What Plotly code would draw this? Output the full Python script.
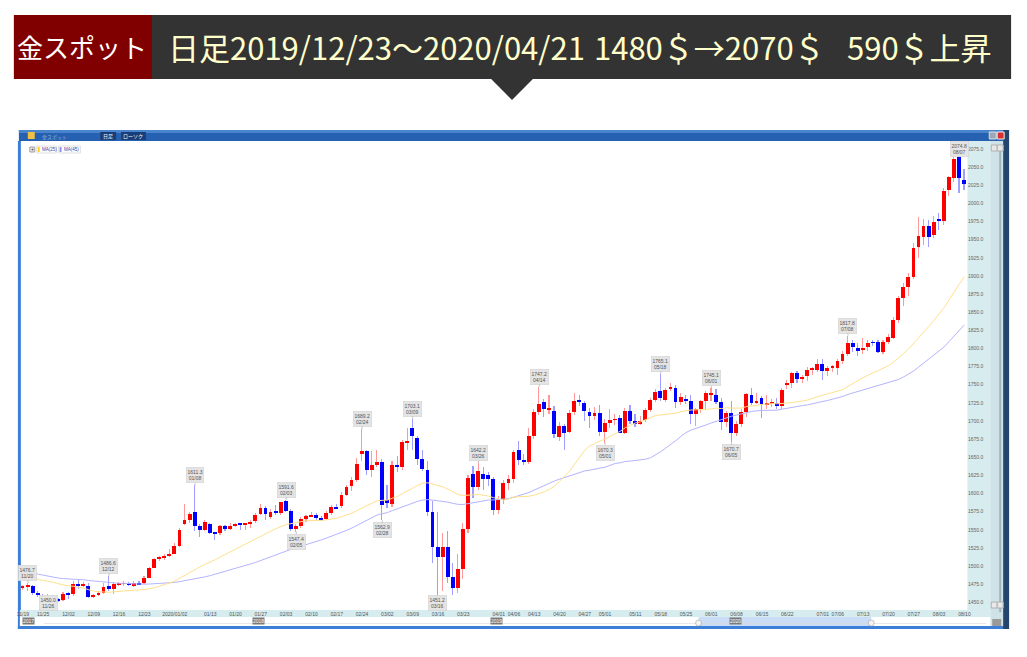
import plotly.graph_objects as go
import pandas as pd

# ---------------- data ----------------
dates = [
 "2019-11-19","2019-11-20","2019-11-21","2019-11-22","2019-11-25","2019-11-26","2019-11-27","2019-11-28","2019-11-29",
 "2019-12-02","2019-12-03","2019-12-04","2019-12-05","2019-12-06","2019-12-09","2019-12-10","2019-12-11","2019-12-12","2019-12-13",
 "2019-12-16","2019-12-17","2019-12-18","2019-12-19","2019-12-20","2019-12-23","2019-12-24","2019-12-26","2019-12-27","2019-12-30","2019-12-31",
 "2020-01-02","2020-01-03","2020-01-06","2020-01-07","2020-01-08","2020-01-09","2020-01-10","2020-01-13","2020-01-14","2020-01-15","2020-01-16","2020-01-17",
 "2020-01-20","2020-01-21","2020-01-22","2020-01-23","2020-01-24","2020-01-27","2020-01-28","2020-01-29","2020-01-30","2020-01-31",
 "2020-02-03","2020-02-04","2020-02-05","2020-02-06","2020-02-07","2020-02-10","2020-02-11","2020-02-12","2020-02-13","2020-02-14",
 "2020-02-17","2020-02-18","2020-02-19","2020-02-20","2020-02-21","2020-02-24","2020-02-25","2020-02-26","2020-02-27","2020-02-28",
 "2020-03-02","2020-03-03","2020-03-04","2020-03-05","2020-03-06","2020-03-09","2020-03-10","2020-03-11","2020-03-12","2020-03-13",
 "2020-03-16","2020-03-17","2020-03-18","2020-03-19","2020-03-20","2020-03-23","2020-03-24","2020-03-25","2020-03-26","2020-03-27",
 "2020-03-30","2020-03-31","2020-04-01","2020-04-02","2020-04-03","2020-04-06","2020-04-07","2020-04-08","2020-04-09",
 "2020-04-13","2020-04-14","2020-04-15","2020-04-16","2020-04-17","2020-04-20","2020-04-21","2020-04-22","2020-04-23","2020-04-24",
 "2020-04-27","2020-04-28","2020-04-29","2020-04-30","2020-05-01","2020-05-04","2020-05-05","2020-05-06","2020-05-07","2020-05-08",
 "2020-05-11","2020-05-12","2020-05-13","2020-05-14","2020-05-15","2020-05-18","2020-05-19","2020-05-20","2020-05-21","2020-05-22",
 "2020-05-25","2020-05-26","2020-05-27","2020-05-28","2020-05-29","2020-06-01","2020-06-02","2020-06-03","2020-06-04","2020-06-05",
 "2020-06-08","2020-06-09","2020-06-10","2020-06-11","2020-06-12","2020-06-15","2020-06-16","2020-06-17","2020-06-18","2020-06-19",
 "2020-06-22","2020-06-23","2020-06-24","2020-06-25","2020-06-26","2020-06-29","2020-06-30","2020-07-01","2020-07-02","2020-07-03",
 "2020-07-06","2020-07-07","2020-07-08","2020-07-09","2020-07-10","2020-07-13","2020-07-14","2020-07-15","2020-07-16","2020-07-17",
 "2020-07-20","2020-07-21","2020-07-22","2020-07-23","2020-07-24","2020-07-27","2020-07-28","2020-07-29","2020-07-30","2020-07-31",
 "2020-08-03","2020-08-04","2020-08-05","2020-08-06","2020-08-07","2020-08-10",
]

opens = [
 1471.0,1471.5,1472.5,1463.0,1459.0,1453.5,1459.0,1454.0,1453.5,
 1462.4,1461.0,1475.7,1473.0,1473.0,1458.0,1460.5,1463.0,1472.5,1468.0,
 1475.0,1475.3,1475.6,1472.5,1476.5,1476.0,1484.0,1498.0,1510.0,1511.6,1514.0,
 1517.0,1527.0,1558.5,1563.0,1574.6,1554.8,1550.2,1558.5,1545.6,1545.6,1554.8,1551.0,
 1556.0,1558.5,1557.6,1557.6,1562.0,1572.0,1580.0,1568.0,1575.0,1573.5,
 1590.0,1576.0,1551.6,1555.0,1565.4,1569.0,1570.5,1566.0,1564.5,1573.0,
 1581.0,1582.4,1598.5,1610.0,1618.0,1654.0,1658.0,1633.0,1640.0,1643.6,
 1590.5,1586.0,1639.0,1636.0,1671.0,1691.0,1677.0,1647.0,1633.0,1575.0,
 1526.0,1512.5,1526.0,1485.0,1470.0,1496.0,1551.6,1627.0,1609.0,1627.5,
 1625.0,1620.0,1577.0,1591.0,1614.0,1620.0,1659.7,1646.0,1643.6,
 1679.0,1712.6,1726.0,1716.0,1714.0,1678.0,1693.7,1685.0,1712.6,1729.6,
 1725.0,1712.6,1706.6,1711.0,1685.0,1697.4,1701.5,1703.5,1683.6,1714.0,
 1699.7,1696.5,1701.0,1715.0,1728.7,1741.6,1729.6,1745.0,1746.0,1726.0,
 1731.0,1727.8,1709.4,1717.0,1727.3,1737.0,1735.5,1726.4,1698.8,1711.0,
 1683.6,1696.4,1712.5,1735.5,1725.4,1731.8,1723.0,1724.0,1725.0,1721.3,
 1750.5,1752.5,1766.3,1758.5,1761.7,1771.0,1771.0,1779.2,1769.0,1773.7,
 1773.7,1783.0,1793.0,1807.7,1800.4,1798.5,1802.2,1808.5,1809.1,1795.3,
 1809.0,1815.0,1839.0,1869.0,1885.0,1899.0,1940.0,1954.0,1968.7,1956.0,
 1979.0,1975.6,2018.4,2034.5,2064.4,2032.0,
]

highs = [
 1474.0,1476.7,1474.0,1466.0,1462.0,1461.0,1460.0,1456.0,1464.0,
 1464.0,1480.0,1481.0,1478.0,1476.0,1462.0,1465.0,1476.0,1486.6,1478.0,
 1478.0,1479.0,1478.0,1479.0,1480.0,1486.0,1499.0,1511.0,1514.0,1516.0,1524.0,
 1532.0,1553.0,1586.0,1575.0,1611.3,1558.0,1563.0,1560.0,1547.0,1557.0,1557.0,1560.0,
 1560.0,1560.0,1560.0,1564.0,1573.0,1586.0,1583.0,1578.0,1584.0,1589.0,
 1591.6,1578.0,1558.0,1568.0,1571.0,1574.0,1573.0,1569.0,1576.0,1584.0,
 1585.0,1602.0,1612.0,1623.0,1649.0,1689.2,1660.0,1659.0,1660.0,1647.0,
 1612.0,1645.0,1652.0,1674.0,1690.0,1703.1,1679.0,1660.0,1645.0,1590.0,
 1575.0,1545.0,1548.0,1504.0,1517.0,1560.0,1626.0,1638.0,1642.2,1637.0,
 1630.0,1623.0,1597.0,1618.0,1626.0,1660.0,1673.0,1655.0,1690.0,
 1716.0,1747.2,1730.0,1736.0,1720.0,1698.0,1696.0,1715.0,1738.0,1736.0,
 1727.0,1718.0,1719.0,1722.0,1703.0,1716.0,1710.0,1708.0,1718.0,1722.0,
 1710.0,1707.0,1718.0,1732.0,1744.0,1765.1,1746.0,1752.0,1749.0,1738.0,
 1736.0,1736.0,1718.0,1729.0,1742.0,1745.1,1744.0,1732.0,1714.0,1727.0,
 1700.0,1716.0,1739.0,1745.0,1738.0,1734.0,1736.0,1731.0,1732.0,1745.0,
 1757.0,1768.0,1769.0,1764.0,1774.0,1775.0,1785.0,1785.0,1776.0,1777.0,
 1786.0,1796.0,1817.8,1812.0,1808.0,1814.0,1811.0,1812.0,1812.0,1811.0,
 1820.0,1843.0,1873.0,1890.0,1904.0,1945.0,1981.0,1978.0,1977.0,1983.0,
 1987.0,2021.0,2038.0,2068.0,2074.8,2048.0,
]

lows = [
 1467.0,1466.0,1460.0,1458.0,1452.0,1450.0,1451.0,1450.5,1452.0,
 1455.0,1459.0,1469.0,1471.0,1456.0,1456.0,1459.0,1462.0,1466.0,1462.0,
 1473.0,1472.0,1473.0,1471.0,1474.0,1475.0,1483.0,1497.0,1507.0,1509.0,1513.0,
 1516.0,1526.0,1556.0,1560.0,1549.0,1540.0,1548.0,1544.0,1535.5,1543.0,1548.0,1550.0,
 1554.0,1550.0,1550.0,1552.0,1559.0,1570.0,1564.0,1565.0,1570.0,1571.0,
 1574.0,1549.0,1547.4,1553.0,1561.0,1567.0,1564.0,1562.0,1563.0,1571.0,
 1578.0,1580.0,1597.0,1603.0,1616.0,1645.0,1625.0,1623.0,1636.0,1562.9,
 1580.0,1582.0,1630.0,1633.0,1660.0,1660.0,1640.0,1631.0,1569.0,1504.0,
 1451.2,1466.0,1476.0,1460.0,1463.0,1482.0,1545.0,1594.0,1605.0,1605.0,
 1610.0,1570.0,1572.0,1586.0,1605.0,1615.0,1640.0,1640.0,1641.0,
 1675.0,1708.0,1706.0,1710.0,1676.0,1672.0,1660.0,1683.0,1708.0,1720.0,
 1700.0,1690.0,1702.0,1680.0,1670.3,1691.0,1695.0,1683.0,1682.0,1696.0,
 1692.0,1694.0,1698.0,1712.0,1726.0,1727.0,1726.0,1741.0,1718.0,1722.0,
 1724.0,1696.0,1693.0,1711.0,1716.0,1727.0,1723.0,1687.0,1692.0,1670.7,
 1679.0,1692.0,1705.0,1722.0,1723.0,1704.0,1716.0,1719.0,1717.0,1717.0,
 1744.0,1745.0,1752.0,1752.0,1755.0,1764.0,1768.0,1757.0,1762.0,1768.0,
 1763.0,1778.0,1790.0,1795.0,1790.0,1792.0,1797.0,1803.0,1794.0,1793.0,
 1806.0,1813.0,1835.0,1858.0,1872.0,1896.0,1925.0,1943.0,1940.0,1952.0,
 1963.0,1970.0,2010.0,2030.0,2015.0,2018.0,
]

closes = [
 1471.5,1472.5,1463.0,1460.5,1453.5,1459.0,1453.5,1452.5,1462.0,
 1461.0,1475.7,1472.5,1473.8,1458.0,1460.5,1463.0,1471.0,1468.0,1475.0,
 1475.3,1475.6,1474.3,1476.5,1475.2,1484.0,1498.0,1509.3,1512.5,1514.3,1517.0,
 1527.2,1550.2,1564.0,1572.3,1554.8,1550.2,1560.8,1545.6,1544.5,1554.8,1551.0,1554.8,
 1558.5,1557.6,1558.0,1560.8,1570.0,1580.0,1572.0,1575.0,1573.5,1588.0,
 1576.0,1551.6,1555.0,1565.4,1568.6,1570.5,1566.0,1564.5,1573.0,1581.0,
 1580.0,1598.5,1609.0,1618.0,1641.0,1658.0,1633.0,1639.0,1643.0,1583.8,
 1588.0,1639.0,1636.0,1671.0,1672.6,1679.0,1647.0,1634.4,1575.0,1526.0,
 1512.5,1526.0,1485.0,1470.0,1496.4,1551.6,1622.0,1609.0,1631.0,1620.5,
 1620.0,1577.0,1591.0,1614.0,1620.0,1657.4,1646.0,1643.6,1679.0,
 1712.6,1724.0,1716.0,1716.5,1682.0,1693.7,1683.6,1711.0,1727.8,1726.4,
 1713.5,1706.6,1711.0,1685.0,1697.4,1701.5,1702.5,1683.6,1714.0,1699.7,
 1696.5,1699.7,1715.0,1728.7,1740.0,1732.4,1743.4,1747.0,1726.0,1733.3,
 1727.8,1709.4,1717.0,1727.3,1738.0,1739.0,1726.4,1698.8,1711.0,1683.6,
 1696.4,1712.5,1737.0,1725.4,1727.7,1723.0,1725.0,1725.5,1721.3,1742.4,
 1752.5,1766.3,1758.5,1760.8,1770.0,1772.0,1779.2,1769.0,1773.7,1774.5,
 1783.0,1793.0,1807.7,1802.2,1796.7,1800.4,1808.2,1808.0,1795.3,1809.1,
 1816.0,1839.0,1869.0,1885.0,1899.0,1938.0,1955.0,1968.7,1954.0,1974.7,
 1976.0,2017.5,2035.9,2060.7,2034.5,2026.7,
]

# closes before the visible window (feed the moving averages at the left edge)
prior_closes = [
 1494,1498,1516,1522,1531,1504,1505,1497,1472,
 1478,1500,1505,1505,1493,1505,1506,1494,1489,1497,1482,1492,1493,1490,1484,1487,1492,1504,1505,1493,1488,1496,1513,
 1514,1509,1484,1490,1467,1459,1456,1456,1463,1471,1468,1472,
]

# high / low price markers
mark_dates  = ["2019-11-20","2019-11-26","2019-12-12","2020-01-08","2020-02-03","2020-02-05","2020-02-24","2020-02-28",
               "2020-03-09","2020-03-16","2020-03-26","2020-04-14","2020-05-01","2020-05-18","2020-06-01","2020-06-05",
               "2020-07-08","2020-08-07"]
mark_values = [1476.7,1450.0,1486.6,1611.3,1591.6,1547.4,1689.2,1562.9,
               1703.1,1451.2,1642.2,1747.2,1670.3,1765.1,1745.1,1670.7,
               1817.8,2074.8]
mark_kinds  = ["H","L","H","H","H","L","H","L","H","L","H","H","L","H","H","L","H","H"]

x_tick_dates = ["2019-11-19","2019-11-25","2019-12-02","2019-12-09","2019-12-16","2019-12-23","2020-01-02","2020-01-13",
                "2020-01-20","2020-01-27","2020-02-03","2020-02-10","2020-02-17","2020-02-24","2020-03-02","2020-03-09",
                "2020-03-16","2020-03-23","2020-04-01","2020-04-06","2020-04-13","2020-04-20","2020-04-27","2020-05-01",
                "2020-05-11","2020-05-18","2020-05-25","2020-06-01","2020-06-08","2020-06-15","2020-06-22","2020-07-01",
                "2020-07-06","2020-07-13","2020-07-20","2020-07-27","2020-08-03","2020-08-10"]
x_tick_text = ["11/19","11/25","12/02","12/09","12/16","12/23","2020/01/02","01/13","01/20","01/27","02/03","02/10",
               "02/17","02/24","03/02","03/09","03/16","03/23","04/01","04/06","04/13","04/20","04/27","05/01",
               "05/11","05/18","05/25","06/01","06/08","06/15","06/22","07/01","07/06","07/13","07/20","07/27",
               "08/03","08/10"]
y_tick_vals = [1450,1475,1500,1525,1550,1575,1600,1625,1650,1675,1700,1725,1750,1775,1800,1825,1850,1875,
               1900,1925,1950,1975,2000,2025,2050,2075]

year_badges = ["2017","2018","2019","2020"]

# ---------------- helpers ----------------
W, H = 1027, 657
def X(px): return px / W
def Y(py): return 1 - py / H

PLOT_TOP, PLOT_BOT = 143, 610
Y_LO, Y_HI = 1439.4, 2083.3
def ypix(v): return PLOT_TOP + (Y_HI - v) / (Y_HI - Y_LO) * (PLOT_BOT - PLOT_TOP)

n = len(dates)
up = [c >= o for o, c in zip(opens, closes)]
body_base = [min(o, c) for o, c in zip(opens, closes)]
body_len = [max(abs(c - o), 0.9) for o, c in zip(opens, closes)]
wick_len = [h - l for h, l in zip(highs, lows)]
body_col = ["#FF0000" if u else "#0000FF" for u in up]
wick_col = ["rgba(255,70,70,0.55)" if u else "rgba(80,80,255,0.55)" for u in up]

allc = pd.Series(prior_closes + closes, dtype=float)
ma25 = allc.rolling(25, min_periods=1).mean().iloc[-n:].tolist()
ma45 = allc.rolling(45, min_periods=1).mean().iloc[-n:].tolist()

fig = go.Figure()
fig.add_trace(go.Scatter(x=dates, y=ma45, mode="lines", line=dict(color="#B4B4FF", width=1), hoverinfo="skip"))
fig.add_trace(go.Scatter(x=dates, y=ma25, mode="lines", line=dict(color="#FFE08C", width=1), hoverinfo="skip"))
fig.add_trace(go.Bar(x=dates, y=wick_len, base=lows, width=0.22, marker=dict(color=wick_col, line=dict(width=0))))
fig.add_trace(go.Bar(x=dates, y=body_len, base=body_base, width=0.76, marker=dict(color=body_col, line=dict(width=0))))

# price markers (kept inside the plot area like the original)
for d, v, k in zip(mark_dates, mark_values, mark_kinds):
    lab = f"{v:.1f}<br>{d[5:7]}/{d[8:10]}"
    yp = ypix(v)
    if k == "H":
        centre = max(yp - 10, 149)
    else:
        centre = min(yp + 10, 603)
    fig.add_annotation(x=d, y=v, xref="x", yref="y", text=lab, showarrow=True, arrowhead=0, arrowwidth=0.8,
                       arrowcolor="#B0B0B0", ax=0, ay=centre - yp,
                       bgcolor="#E4E4E4", bordercolor="#D0D0D0", borderwidth=0.5, borderpad=1,
                       font=dict(size=5, color="#555555", family="Arial"))

shapes = []
def rect(x0, y0, x1, y1, fill, line=None, layer="below"):
    shapes.append(dict(type="rect", xref="paper", yref="paper", x0=X(x0), x1=X(x1), y0=Y(y1), y1=Y(y0),
                       fillcolor=fill, line=dict(width=0 if line is None else 1, color=line or fill), layer=layer))

# header
rect(10, 15, 1015, 79, "#333333")
rect(10, 15, 149, 79, "#800000")
shapes.append(dict(type="path", xref="paper", yref="paper",
                   path=f"M {X(491)} {Y(79)} L {X(533)} {Y(79)} L {X(512)} {Y(100)} Z",
                   fillcolor="#333333", line=dict(width=0), layer="below"))
# window frame
rect(15, 130, 1012, 141, "#2660B0")
rect(15, 130, 1012, 133, "#4A84CC")
rect(14, 141, 17, 629, "#3C7FD8")
rect(14, 626, 1012, 629, "#3C7FD8")
rect(971, 141, 994, 617, "#D6ECEF")
rect(994, 141, 1007, 626, "#CFE2E7")
rect(1003, 150, 1005, 612, "#9FB4BC")
rect(1007, 130, 1013, 629, "#24466C")
rect(16, 610, 994, 617, "#D6ECEF")
rect(16, 617, 994, 626, "#FFFFFF")
rect(700, 617, 874, 626, "#CBDDF6")
rect(995, 145, 1001, 151, "#E8E8E8", "#B0B0B0")
rect(1001, 145, 1007, 151, "#E8E8E8", "#B0B0B0")
rect(995, 602, 1001, 608, "#E8E8E8", "#B0B0B0")
rect(1001, 602, 1007, 608, "#E8E8E8", "#B0B0B0")
rect(996, 619, 1005, 626, "#9A9A9A")
# window buttons
rect(993, 132, 1000, 139, "#9AA8B8", "#E0E0E0")
rect(1001, 132, 1008, 139, "#D83030", "#F0F0F0")
# title bar tabs
rect(97, 132, 113, 140, "#173E78")
rect(118, 132, 143, 140, "#173E78")
rect(24, 132, 31, 139, "#F0C040")
# legend boxes
rect(26, 147, 31, 152, "#E8E8E8", "#A0A0A0")
rect(33, 146, 53, 153, "#FFFFFF", "#E0E0E0")
rect(34, 147, 36, 152, "#FFD020")
rect(55, 146, 77, 153, "#FFFFFF", "#E0E0E0")
rect(56, 147, 58, 152, "#9090FF")
# navigator handles / line
shapes.append(dict(type="circle", xref="paper", yref="paper", x0=X(697), x1=X(703), y0=Y(626), y1=Y(620),
                   fillcolor="#F4F4F4", line=dict(color="#A0A0A0", width=0.6), layer="above"))
shapes.append(dict(type="circle", xref="paper", yref="paper", x0=X(871), x1=X(877), y0=Y(626), y1=Y(620),
                   fillcolor="#F4F4F4", line=dict(color="#A0A0A0", width=0.6), layer="above"))
shapes.append(dict(type="line", xref="paper", yref="paper", x0=X(40), x1=X(990), y0=Y(623.5), y1=Y(623.5),
                   line=dict(color="#D8D8D8", width=0.6), layer="below"))

fig.update_layout(shapes=shapes)

def ptext(x, y, text, size, color, anchor="left", family="Noto Sans CJK JP", bg=None):
    fig.add_annotation(x=X(x), y=Y(y), xref="paper", yref="paper", text=text, showarrow=False,
                       xanchor=anchor, yanchor="middle", font=dict(size=size, color=color, family=family),
                       bgcolor=bg, borderpad=0)

# header text
ptext(79, 47, "金スポット", 26, "#FFFFFF", anchor="center")
ptext(164, 47, "日足2019/12/23〜2020/04/21", 31, "#FFFFCC")
ptext(594, 47, "1480＄→2070＄", 31, "#FFFFCC")
ptext(849, 47, "590＄上昇", 31, "#FFFFCC")
# title bar text
ptext(37, 136, "金スポット", 5, "#8FB0DA")
ptext(105, 136, "日足", 5, "#FFFFFF", anchor="center")
ptext(130.5, 136, "ローソク", 5, "#FFFFFF", anchor="center")
ptext(28.5, 149.5, "+", 5, "#333333", anchor="center", family="Arial")
ptext(37, 149.5, "MA(25)", 4.5, "#4040A0", family="Arial")
ptext(59, 149.5, "MA(45)", 4.5, "#4040A0", family="Arial")
# year badges in navigator
for yb, xb in zip(year_badges, [25, 257, 496, 737]):
    ptext(xb, 620.5, yb, 5, "#FFFFFF", anchor="center", family="Arial", bg="#7A7A7A")

fig.update_layout(
    width=W, height=H, margin=dict(l=0, r=0, t=0, b=0),
    paper_bgcolor="#FFFFFF", plot_bgcolor="rgba(0,0,0,0)",
    showlegend=False, barmode="overlay", bargap=0,
    xaxis=dict(domain=[X(16.5), X(970.5)], type="category", categoryorder="array", categoryarray=dates,
               range=[-0.5, n - 0.5], tickmode="array", tickvals=x_tick_dates, ticktext=x_tick_text,
               tickfont=dict(size=5, color="#555555", family="Arial"), showgrid=False, zeroline=False,
               showline=False, ticks="", tickangle=0, fixedrange=True),
    yaxis=dict(domain=[Y(PLOT_BOT), Y(PLOT_TOP)], range=[Y_LO, Y_HI], side="right", tickmode="array",
               tickvals=y_tick_vals, ticktext=[f"{v:.1f}" for v in y_tick_vals],
               tickfont=dict(size=5, color="#666666", family="Arial"), showgrid=False, zeroline=False,
               showline=False, ticks="", fixedrange=True),
)

fig.write_html("out.html", config={"displayModeBar": False},
               post_script="document.body.style.margin='0px';document.body.style.overflow='hidden';")
